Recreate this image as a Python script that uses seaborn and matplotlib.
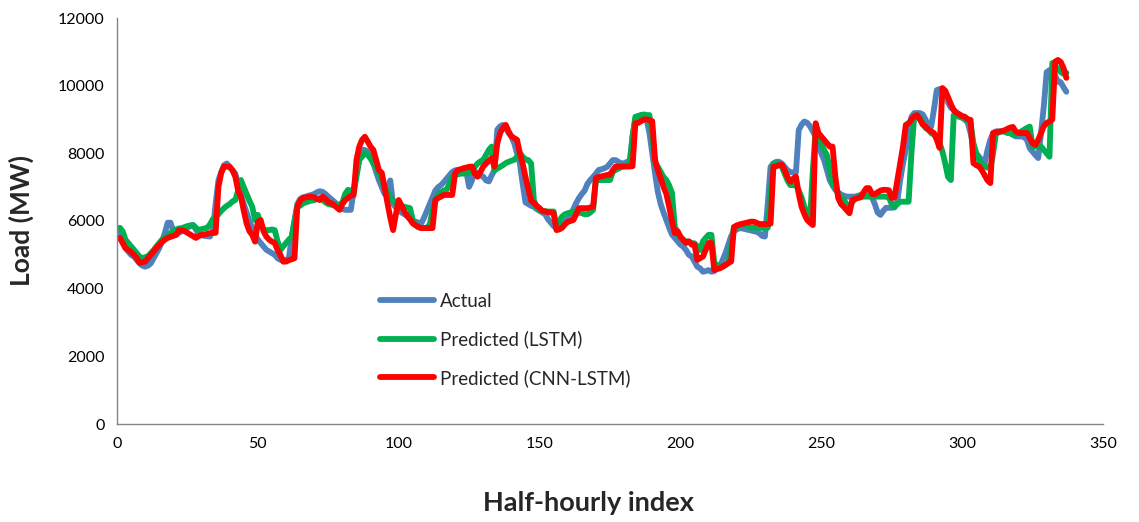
import numpy as np
import pandas as pd
import matplotlib
matplotlib.use("Agg")
import matplotlib.pyplot as plt
import seaborn as sns

# Half-hourly load over one week (MW)
actual = [
    5700, 5400, 5200, 5100, 5000, 4950, 4850, 4750, 4680, 4650,
    4680, 4750, 4900, 5050, 5200, 5400, 5650, 5950, 5950, 5700,
    5600, 5650, 5700, 5750, 5800, 5850, 5880, 5750, 5600, 5580,
    5560, 5550, 5540, 5700, 6500, 7200, 7450, 7650, 7700, 7600,
    7500, 7400, 7100, 6800, 6500, 6250, 6000, 5800, 5600, 5450,
    5350, 5250, 5150, 5100, 5050, 5000, 4900, 4850, 4850, 4850,
    4900, 5500, 6000, 6500, 6650, 6700, 6720, 6750, 6770, 6800,
    6850, 6880, 6860, 6800, 6720, 6650, 6580, 6500, 6420, 6360,
    6330, 6330, 6330, 6900, 7450, 7800, 8100, 8100, 8050, 7900,
    7700, 7450, 7200, 7000, 6800, 6900, 7200, 6500, 6400, 6300,
    6250, 6200, 6150, 6080, 6000, 5980, 5950, 5930, 6100, 6300,
    6500, 6700, 6900, 7000, 7060, 7150, 7250, 7350, 7450, 7500,
    7500, 7480, 7460, 7450, 7010, 7200, 7460, 7400, 7350, 7310,
    7200, 7170, 7350, 7500, 8700, 8800, 8840, 8750, 8600, 8500,
    8300, 8000, 7700, 7100, 6550, 6500, 6450, 6420, 6350, 6300,
    6250, 6200, 6050, 5950, 5850, 5790, 5800, 5880, 5980, 6050,
    6150, 6350, 6530, 6680, 6800, 6900, 7100, 7210, 7300, 7400,
    7510, 7530, 7560, 7600, 7700, 7800, 7800, 7750, 7700, 7700,
    7750, 7750, 8500, 9000, 9100, 9130, 9100, 9000, 8600, 8000,
    7400, 6850, 6500, 6250, 6030, 5800, 5600, 5500, 5400, 5300,
    5240, 5140, 5000, 4950, 4800, 4650, 4600, 4500, 4520, 4550,
    4500, 4520, 4600, 4650, 4850, 5050, 5300, 5550, 5700, 5750,
    5790, 5780, 5760, 5740, 5720, 5700, 5680, 5640, 5560, 5540,
    6500, 7600, 7700, 7750, 7750, 7700, 7600, 7500, 7450, 7430,
    7430, 8690, 8850, 8940, 8900, 8800, 8650, 8500, 8300, 8000,
    7800, 7500, 7210, 7050, 6920, 6850, 6780, 6750, 6720, 6720,
    6720, 6720, 6750, 6770, 6770, 6770, 6770, 6700, 6500, 6250,
    6180, 6300, 6390, 6390, 6390, 6400, 6600, 7200, 7700, 8100,
    8600, 9080, 9190, 9190, 9190, 9150, 9000, 8800, 8790, 9300,
    9870, 9900, 9900, 9800, 9500, 9350, 9280, 9200, 9150, 9100,
    9000, 8900, 8600, 8200, 8000, 7900, 7800, 7700, 8100, 8400,
    8600, 8650, 8650, 8650, 8650, 8650, 8600, 8550, 8500, 8500,
    8500, 8480, 8400, 8150, 8050, 7950, 7860, 8600, 9400, 10400,
    10460, 10460, 10300, 10120, 10100, 9950, 9820,
]

lstm = [
    5800, 5700, 5450, 5350, 5250, 5150, 5050, 4950, 4900, 4930,
    4960, 5050, 5140, 5250, 5350, 5450, 5500, 5560, 5650, 5700,
    5750, 5780, 5790, 5820, 5850, 5870, 5880, 5800, 5730, 5760,
    5780, 5800, 5900, 6050, 6130, 6200, 6300, 6380, 6450, 6500,
    6580, 6620, 6900, 7210, 7000, 6800, 6600, 6420, 6030, 6180,
    5900, 5750, 5730, 5730, 5750, 5730, 5400, 5140, 5250, 5350,
    5450, 5530, 6000, 6420, 6450, 6520, 6550, 6580, 6600, 6620,
    6650, 6680, 6620, 6550, 6500, 6480, 6480, 6480, 6480, 6550,
    6800, 6920, 6900, 6820, 7300, 7810, 7900, 8010, 7950, 7850,
    7700, 7610, 7400, 7200, 7010, 6850, 6700, 6600, 6530, 6480,
    6450, 6420, 6400, 6380, 6030, 5900, 5820, 5790, 5790, 5800,
    5900, 6300, 6600, 6770, 6850, 6900, 6920, 7100, 7300, 7360,
    7380, 7400, 7400, 7410, 7410, 7500, 7600, 7700, 7760, 7810,
    7950, 8100, 8200, 7500, 7550, 7600, 7650, 7710, 7750, 7780,
    7810, 7900, 8010, 7900, 7820, 7800, 7700, 6600, 6400, 6330,
    6300, 6290, 6280, 6280, 6280, 5790, 6000, 6130, 6200, 6230,
    6250, 6280, 6280, 6250, 6230, 6200, 6200, 6250, 6330, 7210,
    7210, 7210, 7210, 7210, 7210, 7450, 7510, 7550, 7600, 7620,
    7650, 7660, 8500, 9080, 9100, 9130, 9150, 9130, 9130, 8500,
    7710, 7600, 7450, 7300, 7210, 7050, 6830, 5830, 5650, 5500,
    5440, 5400, 5380, 5350, 5340, 5250, 5140, 5400, 5500, 5590,
    5590, 4760, 4700, 4670, 4650, 4700, 4760, 5300, 5820, 5840,
    5860, 5870, 5880, 5850, 5800, 5800, 5800, 5800, 5800, 5800,
    5800, 6800, 7700, 7700, 7700, 7600, 7400, 7200, 7060, 7060,
    7060, 6900, 6700, 6420, 6200, 6030, 7500, 8690, 8400, 8300,
    8100, 7950, 7500, 7100, 6970, 6800, 6700, 6620, 6500, 6420,
    6550, 6680, 6700, 6720, 6720, 6720, 6720, 6720, 6720, 6720,
    6720, 6720, 6720, 6700, 6500, 6420, 6500, 6570, 6570, 6570,
    6570, 8000, 9100, 9130, 9050, 8900, 8750, 8700, 8600, 8550,
    8490, 8300, 8050, 7700, 7300, 7210, 9130, 9100, 9080, 9050,
    9000, 8990, 8890, 8300, 8000, 7800, 7660, 7620, 7580, 7560,
    8000, 8600, 8620, 8650, 8650, 8600, 8600, 8550, 8550, 8600,
    8650, 8700, 8750, 8790, 8200, 8200, 8200, 8200, 8100, 8000,
    7900, 10670, 10600, 10500, 10400, 10350, 10380,
]

cnn_lstm = [
    5500, 5350, 5200, 5140, 5080, 5000, 4900, 4760, 4780, 4800,
    4900, 5000, 5100, 5200, 5290, 5380, 5450, 5500, 5530, 5560,
    5590, 5730, 5720, 5700, 5650, 5600, 5550, 5500, 5550, 5590,
    5600, 5620, 5640, 5650, 5650, 7010, 7420, 7610, 7610, 7600,
    7500, 7310, 6900, 6720, 6300, 5930, 5700, 5590, 5390, 5980,
    6030, 5700, 5540, 5450, 5390, 5350, 5140, 5000, 4800, 4800,
    4840, 4870, 4900, 6420, 6600, 6680, 6700, 6710, 6720, 6700,
    6650, 6620, 6720, 6650, 6550, 6530, 6470, 6400, 6330, 6500,
    6620, 6680, 6750, 6770, 7800, 8200, 8400, 8490, 8350, 8200,
    8100, 7800, 7500, 7420, 7000, 6530, 6100, 5730, 6200, 6620,
    6450, 6280, 6150, 6050, 5930, 5870, 5820, 5790, 5790, 5790,
    5790, 5790, 6620, 6680, 6720, 6770, 6770, 6770, 6770, 7400,
    7510, 7530, 7560, 7580, 7600, 7610, 7400, 7310, 7450, 7610,
    7700, 7780, 7860, 7610, 8300, 8600, 8750, 8840, 8650, 8500,
    8450, 8400, 8000, 7700, 7300, 6950, 6600, 6530, 6450, 6380,
    6300, 6280, 6260, 6250, 6230, 5730, 5750, 5800, 5900, 5980,
    6000, 6030, 6200, 6380, 6380, 6380, 6380, 6400, 6420, 7270,
    7300, 7320, 7340, 7360, 7370, 7500, 7610, 7610, 7610, 7610,
    7610, 7610, 7620, 8890, 8900, 8950, 9000, 9000, 8980, 8950,
    7800, 7500, 7250, 7010, 6800, 6420, 6000, 5640, 5700, 5540,
    5440, 5350, 5400, 5300, 5300, 4850, 4900, 4950, 5150, 5350,
    5350, 4550, 4580, 4600, 4650, 4700, 4760, 4800, 5820, 5870,
    5900, 5920, 5940, 5960, 5980, 5980, 5950, 5910, 5910, 5910,
    5910, 5920, 7600, 7620, 7650, 7660, 7500, 7300, 7160, 7250,
    7310, 6800, 6420, 6200, 6030, 5950, 5880, 8890, 8600, 8500,
    8400, 8300, 8200, 8200, 7310, 6680, 6500, 6420, 6320, 6230,
    6620, 6650, 6680, 6700, 6850, 6970, 6970, 6800, 6790, 6850,
    6900, 6920, 6920, 6910, 6680, 6700, 7200, 7700, 8200, 8840,
    8890, 9000, 9100, 9130, 9000, 8850, 8790, 8700, 8650, 8600,
    8400, 8160, 9930, 9850, 9660, 9450, 9280, 9200, 9150, 9100,
    9080, 9000, 8990, 7710, 7650, 7610, 7500, 7350, 7200, 7120,
    8600, 8620, 8640, 8650, 8680, 8720, 8760, 8780, 8650, 8600,
    8600, 8600, 8600, 8450, 8300, 8250, 8400, 8600, 8800, 8900,
    8940, 9000, 10710, 10760, 10700, 10520, 10230,
]

series_names = ["Actual", "Predicted (LSTM)", "Predicted (CNN-LSTM)"]
series_colors = ["#4F81BD", "#00B050", "#FF0000"]
x_ticks = [0, 50, 100, 150, 200, 250, 300, 350]
y_ticks = [0, 2000, 4000, 6000, 8000, 10000, 12000]

frames = []
for name, vals in zip(series_names, [actual, lstm, cnn_lstm]):
    frames.append(pd.DataFrame({
        "index": np.arange(1, len(vals) + 1),
        "load": vals,
        "series": name,
    }))
df = pd.concat(frames, ignore_index=True)

sns.set_style("white")
plt.rcParams["font.family"] = ["Lato", "DejaVu Sans"]

W, H = 1139, 522
fig = plt.figure(figsize=(W / 100, H / 100), dpi=100)
ax = fig.add_axes([117 / W, 1 - 424 / H, (1103 - 117) / W, (424 - 18) / H])

sns.lineplot(
    data=df, x="index", y="load", hue="series", hue_order=series_names,
    palette=dict(zip(series_names, series_colors)), linewidth=4.2,
    solid_joinstyle="round", solid_capstyle="round", ax=ax,
)

ax.set_xlim(0, 350)
ax.set_ylim(0, 12000)
ax.set_xticks(x_ticks)
ax.set_yticks(y_ticks)
ax.set_xticklabels([str(t) for t in x_ticks])
ax.set_yticklabels([str(t) for t in y_ticks])

axis_grey = "#868686"
for side in ["top", "right"]:
    ax.spines[side].set_visible(False)
for side in ["left", "bottom"]:
    ax.spines[side].set_color(axis_grey)
    ax.spines[side].set_linewidth(1.0)
ax.tick_params(axis="both", direction="out", length=5, width=1.0,
               color=axis_grey, labelsize=11.5, labelcolor="black", pad=4)
ax.grid(False)

ax.set_xlabel("Half-hourly index", fontsize=19.5, fontweight="bold")
ax.set_ylabel("Load (MW)", fontsize=19, fontweight="bold")
ax.xaxis.set_label_coords(0.478, -0.166)
ax.yaxis.set_label_coords(-0.084, 0.5)

leg = ax.legend(
    frameon=False, loc="upper left", bbox_to_anchor=(0.259, 0.342),
    fontsize=13.5, handlelength=2.9, handletextpad=0.3, labelspacing=1.1,
    borderaxespad=0,
)
for line in leg.get_lines():
    line.set_linewidth(4.2)

fig.savefig("out.png", dpi=100)
